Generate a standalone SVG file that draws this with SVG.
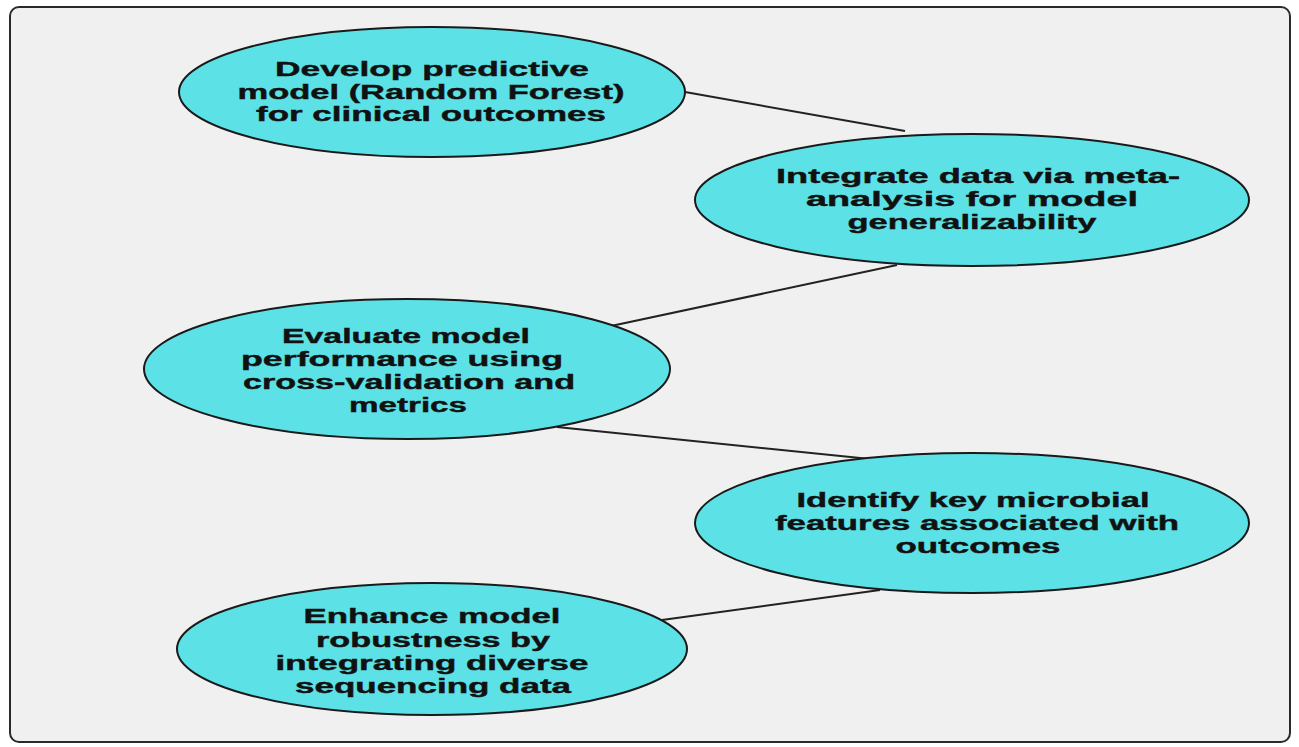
<svg xmlns="http://www.w3.org/2000/svg" width="1299" height="747" viewBox="0 0 1299 747">
<style>
.node{fill:#5ce1e6;stroke:#1a1a1a;stroke-width:2}
.lbl{font-family:"Liberation Sans",Arial,sans-serif;font-weight:bold;font-size:20px;fill:#111;text-anchor:middle;stroke:#111;stroke-width:0.4}
.edge{stroke:#222;stroke-width:2;fill:none}
</style>
<rect width="1299" height="747" fill="#ffffff"/>
<rect x="10" y="7" width="1280" height="735" rx="9" fill="#f0f0f0" stroke="#2a2a2a" stroke-width="2"/>
<g id="connectors">
<line class="edge" x1="685" y1="92" x2="905" y2="131"/>
<line class="edge" x1="897" y1="265" x2="611" y2="326"/>
<line class="edge" x1="557" y1="427" x2="870" y2="459"/>
<line class="edge" x1="880" y1="590" x2="662" y2="620"/>
</g>
<g id="n1">
<ellipse class="node" cx="432" cy="92" rx="253" ry="65"/>
<text class="lbl"><tspan x="432" y="76" textLength="314" lengthAdjust="spacingAndGlyphs">Develop predictive</tspan><tspan x="431" y="99" textLength="387" lengthAdjust="spacingAndGlyphs">model (Random Forest)</tspan><tspan x="431" y="121" textLength="350" lengthAdjust="spacingAndGlyphs">for clinical outcomes</tspan></text>
</g>
<g id="n2">
<ellipse class="node" cx="972" cy="200" rx="277" ry="66"/>
<text class="lbl"><tspan x="978" y="183" textLength="404" lengthAdjust="spacingAndGlyphs">Integrate data via meta-</tspan><tspan x="972" y="206" textLength="332" lengthAdjust="spacingAndGlyphs">analysis for model</tspan><tspan x="972" y="229" textLength="249" lengthAdjust="spacingAndGlyphs">generalizability</tspan></text>
</g>
<g id="n3">
<ellipse class="node" cx="407" cy="369" rx="263" ry="70"/>
<text class="lbl"><tspan x="406" y="343" textLength="248" lengthAdjust="spacingAndGlyphs">Evaluate model</tspan><tspan x="402" y="366" textLength="322" lengthAdjust="spacingAndGlyphs">performance using</tspan><tspan x="409" y="389" textLength="332" lengthAdjust="spacingAndGlyphs">cross-validation and</tspan><tspan x="408" y="412" textLength="118" lengthAdjust="spacingAndGlyphs">metrics</tspan></text>
</g>
<g id="n4">
<ellipse class="node" cx="972" cy="523" rx="277" ry="70"/>
<text class="lbl"><tspan x="973" y="507" textLength="353" lengthAdjust="spacingAndGlyphs">Identify key microbial</tspan><tspan x="977" y="530" textLength="404" lengthAdjust="spacingAndGlyphs">features associated with</tspan><tspan x="978" y="553" textLength="165" lengthAdjust="spacingAndGlyphs">outcomes</tspan></text>
</g>
<g id="n5">
<ellipse class="node" cx="432" cy="649" rx="255" ry="66"/>
<text class="lbl"><tspan x="432" y="623" textLength="257" lengthAdjust="spacingAndGlyphs">Enhance model</tspan><tspan x="433" y="647" textLength="234" lengthAdjust="spacingAndGlyphs">robustness by</tspan><tspan x="432" y="670" textLength="313" lengthAdjust="spacingAndGlyphs">integrating diverse</tspan><tspan x="433" y="693" textLength="276" lengthAdjust="spacingAndGlyphs">sequencing data</tspan></text>
</g>
</svg>
